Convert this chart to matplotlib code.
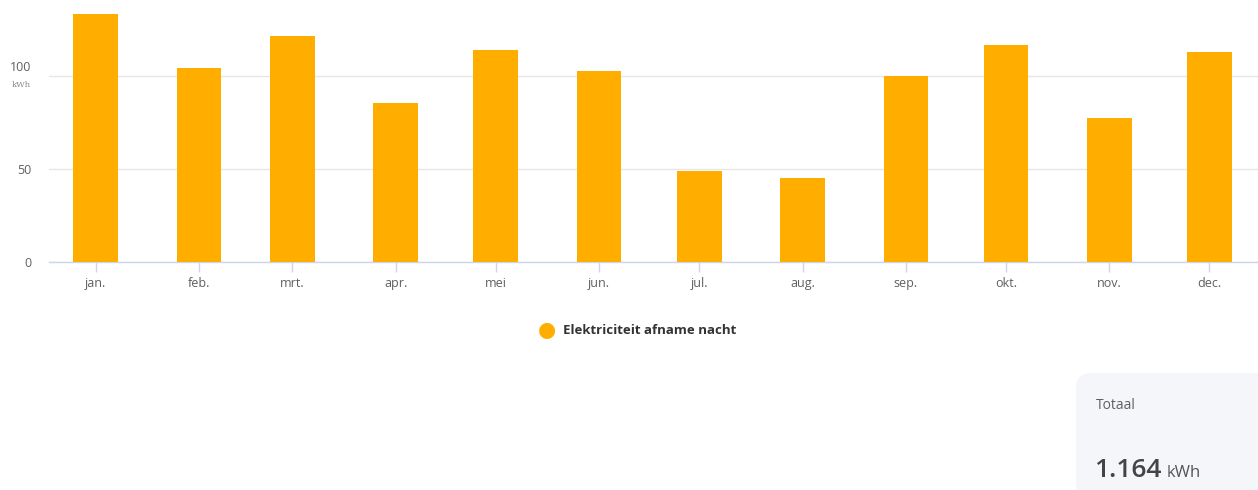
import matplotlib.pyplot as plt
import matplotlib.dates as mdates
from matplotlib.patches import FancyBboxPatch
import numpy as np
import pandas as pd

plt.rcParams['font.family'] = ['Open Sans', 'DejaVu Sans']

# monthly night-time consumption (kWh)
months = pd.date_range('2023-01-01', periods=12, freq='MS')
month_labels = ['jan.', 'feb.', 'mrt.', 'apr.', 'mei', 'jun.', 'jul.', 'aug.', 'sep.', 'okt.', 'nov.', 'dec.']
usage = [133.5, 104.3, 121.4, 85.5, 114.2, 103.1, 49.0, 45.3, 100.4, 116.9, 77.7, 112.9]
series_name = 'Elektriciteit afname nacht'
total_label = '1.164'

bar_color = '#ffae00'
grid_color = '#e6e6e6'
axis_color = '#ccd6eb'
label_color = '#5f5f5f'

fig = plt.figure(figsize=(12.58, 4.9), dpi=100)
ax = fig.add_axes([0.0392, 0.4647, 0.9608, 0.5353])

x = mdates.date2num(months)
ax.bar(x, usage, width=13.4, color=bar_color, zorder=3)

ax.set_xlim(x[0] - 13.9, x[0] + 348.6)
ax.set_ylim(0, 141)

ax.set_xticks(x)
ax.set_xticklabels(month_labels)
ax.set_yticks([0, 50, 100])
ax.set_yticklabels(['0', '50', ''])
ax.yaxis.grid(True, color=grid_color, linewidth=1, zorder=0)
ax.set_axisbelow(True)

for side in ['top', 'right', 'left']:
    ax.spines[side].set_visible(False)
ax.spines['bottom'].set_color(axis_color)
ax.spines['bottom'].set_linewidth(1)
ax.tick_params(axis='x', colors=axis_color, length=7.5, width=1, pad=3,
               labelcolor=label_color, labelsize=9)
ax.tick_params(axis='y', length=0, pad=13, labelcolor=label_color, labelsize=9)

# top tick carries the unit underneath
ax.annotate('100', xy=(0, 100), xycoords=('axes fraction', 'data'),
            xytext=(-13, 6), textcoords='offset points', ha='right', va='center',
            color=label_color, fontsize=9)
ax.annotate('kWh', xy=(0, 100), xycoords=('axes fraction', 'data'),
            xytext=(-13, -6), textcoords='offset points', ha='right', va='center',
            color='#888888', fontsize=6, family='DejaVu Serif')

# legend
fig.text(546.7 / 1258, 1 - 330 / 490, '\u25CF', color=bar_color, fontsize=15,
         ha='center', va='center', family='DejaVu Sans')
fig.text(563 / 1258, 1 - 331 / 490, series_name, color='#333333', fontsize=9.5,
         fontweight='bold', ha='left', va='center')

# total panel
panel = FancyBboxPatch((1076 / 1258, -0.1), 0.2, 1 - 373 / 490 + 0.1,
                       boxstyle='round,pad=0,rounding_size=0.012',
                       transform=fig.transFigure, facecolor='#f4f6f9',
                       edgecolor='none', mutation_aspect=1258 / 490)
fig.patches.append(panel)
fig.text(1096 / 1258, 1 - 405 / 490, 'Totaal', color=label_color, fontsize=10,
         ha='left', va='center')
fig.text(1094 / 1258, 1 - 477 / 490, total_label, color='#444444', fontsize=19,
         fontweight='semibold', ha='left', va='baseline')
fig.text(1167 / 1258, 1 - 477 / 490, 'kWh', color='#555555', fontsize=12,
         ha='left', va='baseline')

fig.savefig('out.png', dpi=100)
